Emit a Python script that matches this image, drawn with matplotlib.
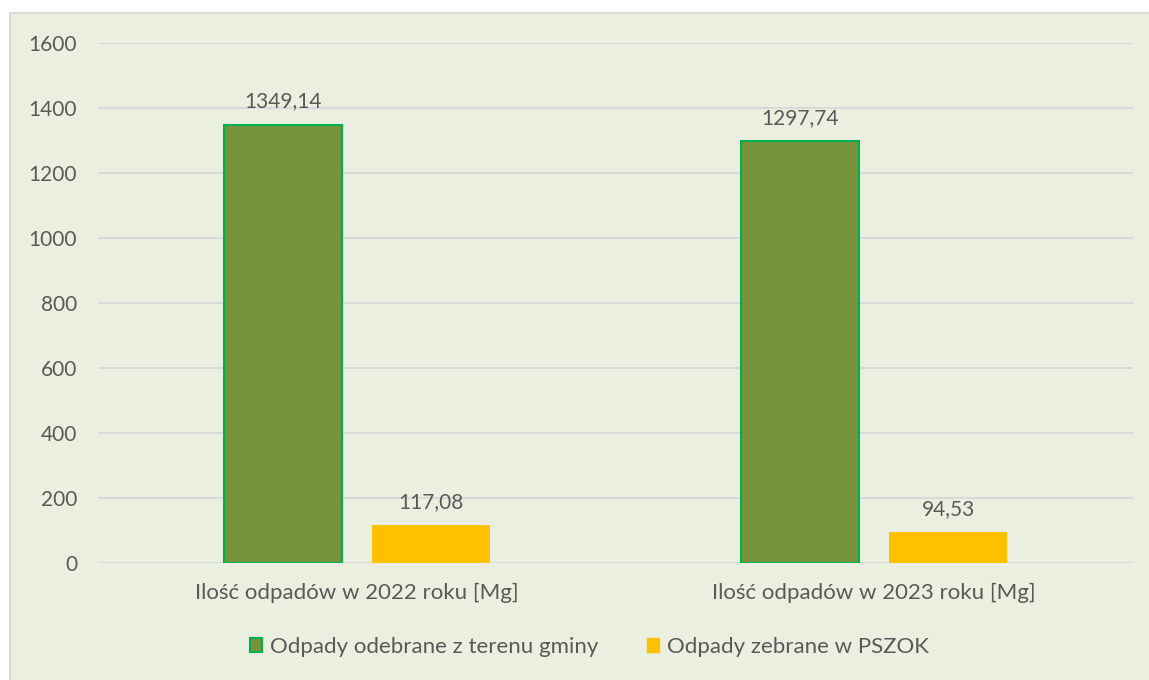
import numpy as np
import matplotlib.pyplot as plt
from matplotlib.patches import Rectangle, Patch
from matplotlib.lines import Line2D

# dane
kategorie = ["Ilość odpadów w 2022 roku [Mg]", "Ilość odpadów w 2023 roku [Mg]"]
odebrane = [1349.14, 1297.74]
pszok = [117.08, 94.53]
seria = ["Odpady odebrane z terenu gminy", "Odpady zebrane w PSZOK"]

W, H = 1149, 680
tlo = "#EBEFDF"
tekst = "#595959"
plt.rcParams['font.family'] = ['Lato', 'DejaVu Sans']

fig = plt.figure(figsize=(W / 100, H / 100), dpi=100)
fig.patch.set_facecolor("white")
# panel wykresu z ramka (lewa i gorna krawedz)
x0, y0 = 9.5 / W, 1 - 12.5 / H
fig.patches.append(Rectangle((x0, -0.01), 1.02 - x0, y0 + 0.01,
                             transform=fig.transFigure,
                             facecolor=tlo, edgecolor="none", zorder=-2))
fig.lines.append(Line2D([x0, x0, 1.01], [-0.01, y0, y0],
                        transform=fig.transFigure,
                        color="#D9D9D9", linewidth=1.5, zorder=-1))

ax = fig.add_axes([98 / W, 1 - 563 / H, (1133 - 98) / W, 520 / H])
ax.patch.set_alpha(0)

x = np.arange(len(kategorie))
szer = 0.228
off = 0.143
b1 = ax.bar(x - off, odebrane, szer, color="#77933C", edgecolor="#00B050",
            linewidth=1.5, zorder=3)
b2 = ax.bar(x + off, pszok, szer, color="#FFC000", zorder=3)

for bars, vals in ((b1, odebrane), (b2, pszok)):
    for b, v in zip(bars, vals):
        ax.text(b.get_x() + b.get_width() / 2, v + 40,
                "{:.2f}".format(v).replace(".", ","),
                ha="center", va="bottom", fontsize=15, color=tekst)

ax.set_xlim(-0.5, 1.5)
ax.set_ylim(0, 1600)
ax.set_yticks(np.arange(0, 1601, 200))
ax.set_xticks(x)
ax.set_xticklabels(kategorie)
ax.grid(axis="y", color="#D9D9D9", linewidth=1.5, zorder=0)
ax.set_axisbelow(True)
for s in ax.spines.values():
    s.set_visible(False)
ax.tick_params(length=0, labelcolor=tekst)
ax.tick_params(axis="y", pad=15, labelsize=15)
ax.tick_params(axis="x", pad=14, labelsize=16)

uchwyty = [Patch(facecolor="#77933C", edgecolor="#00B050", linewidth=1.5),
           Patch(facecolor="#FFC000", edgecolor="#FFC000")]
fig.legend(uchwyty, seria, loc="center", bbox_to_anchor=(0.513, 1 - 647 / H),
           ncol=2, frameon=False, fontsize=16, labelcolor=tekst,
           handlelength=0.55, handleheight=0.55, handletextpad=0.36,
           columnspacing=2.15)

fig.savefig("out.png", dpi=100, facecolor=fig.get_facecolor())
